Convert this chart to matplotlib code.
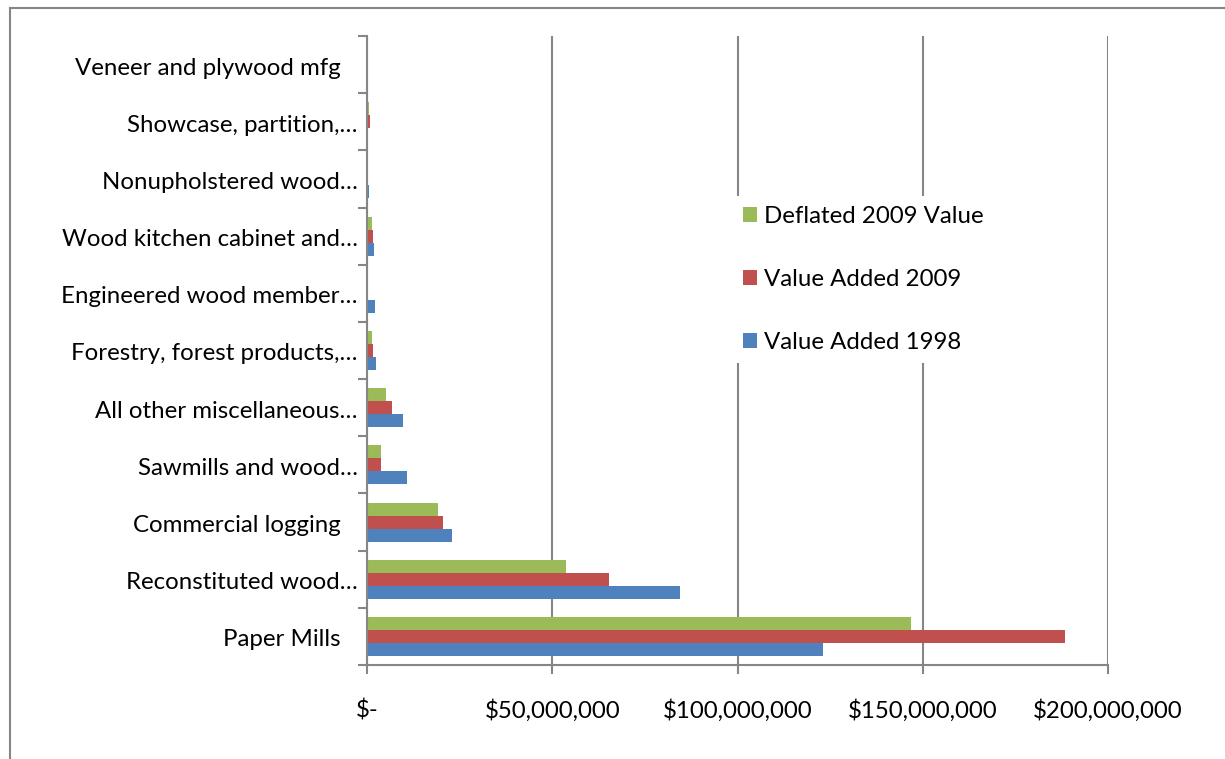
import numpy as np
import matplotlib.pyplot as plt
from matplotlib.lines import Line2D
from matplotlib.ticker import FixedLocator

plt.rcParams['font.family'] = ['Lato', 'DejaVu Sans']

# ===================== data (millions of $) =====================
categories = [
    "Paper Mills",
    "Reconstituted wood…",
    "Commercial logging",
    "Sawmills and wood…",
    "All other miscellaneous…",
    "Forestry, forest products,…",
    "Engineered wood member…",
    "Wood kitchen cabinet and…",
    "Nonupholstered wood…",
    "Showcase, partition,…",
    "Veneer and plywood mfg",
]
value_1998 = [123.0, 84.6, 23.0, 10.7, 9.6, 2.4, 2.2, 1.8, 0.6, 0.0, 0.0]
value_2009 = [188.4, 65.4, 20.5, 3.7, 6.8, 1.6, 0.1, 1.6, 0.0, 0.7, 0.0]
deflated_2009 = [146.8, 53.8, 19.2, 3.8, 5.1, 1.4, 0.0, 1.3, 0.0, 0.5, 0.0]

x_ticks = [0, 50, 100, 150, 200]
x_labels = ["$-", "$50,000,000", "$100,000,000", "$150,000,000", "$200,000,000"]

FS = 17.3
grey = "#868686"

# ===================== plot =====================
fig = plt.figure(figsize=(12.25, 7.59), dpi=100)
ax = fig.add_axes([0.2996, 0.1238, 0.9045 - 0.2996, 0.9526 - 0.1238])

y = np.arange(len(categories))
h = 0.227
ax.barh(y - h, value_1998, height=h, color="#4F81BD", label="Value Added 1998")
ax.barh(y, value_2009, height=h, color="#C0504D", label="Value Added 2009")
ax.barh(y + h, deflated_2009, height=h, color="#9BBB59", label="Deflated 2009 Value")

ax.set_xlim(0, 200)
ax.set_ylim(-0.5, len(categories) - 0.5)
ax.set_xticks(x_ticks)
ax.set_xticklabels(x_labels)
ax.set_yticks(y)
ax.set_yticklabels([])
ax.yaxis.set_minor_locator(FixedLocator(np.arange(-0.5, len(categories), 1.0)))

# category labels (truncated ones sit closer to the axis, like Excel does)
for yi, name in zip(y, categories):
    off = 6.5 if name.endswith("…") else 18.7
    ax.annotate(name, xy=(0, yi), xycoords=("axes fraction", "data"),
                xytext=(-off, -2.5), textcoords="offset points",
                ha="right", va="center", fontsize=FS, annotation_clip=False)

ax.tick_params(axis="y", which="major", length=0)
ax.tick_params(axis="y", which="minor", length=6.5, color=grey, width=1.5)
ax.tick_params(axis="x", length=6.5, color=grey, width=1.5, pad=18, labelsize=FS)

ax.grid(axis="x", color=grey, linewidth=1.5)
ax.set_axisbelow(True)
for s in ["top", "right"]:
    ax.spines[s].set_visible(False)
for s in ["left", "bottom"]:
    ax.spines[s].set_color(grey)
    ax.spines[s].set_linewidth(1.5)

handles, labels = ax.get_legend_handles_labels()
leg = ax.legend(handles[::-1], labels[::-1], loc="center left",
                bbox_to_anchor=(0.478, 0.613), frameon=True, fontsize=FS,
                handlelength=0.6, handleheight=0.6, handletextpad=0.3,
                labelspacing=1.75, borderpad=0.4)
leg.get_frame().set_edgecolor("none")
leg.get_frame().set_facecolor("white")
leg.get_frame().set_alpha(1)

# chart frame
fig.add_artist(Line2D([10 / 1225, 1], [1 - 8 / 759, 1 - 8 / 759], color=grey, linewidth=1.5))
fig.add_artist(Line2D([10 / 1225, 10 / 1225], [0, 1 - 8 / 759], color=grey, linewidth=1.5))

fig.savefig("out.png", dpi=100)
